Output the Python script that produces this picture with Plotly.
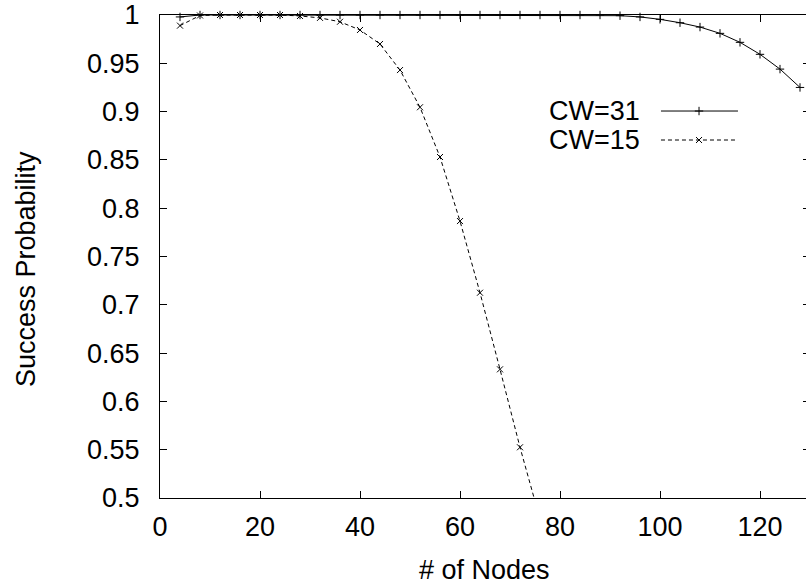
import plotly.graph_objects as go

# ---- data ----
nodes = [4, 8, 12, 16, 20, 24, 28, 32, 36, 40, 44, 48, 52, 56, 60, 64,
         68, 72, 76, 80, 84, 88, 92, 96, 100, 104, 108, 112, 116, 120, 124, 128]
cw31 = [0.998, 1.0, 1.0, 1.0, 1.0, 1.0, 1.0, 1.0, 1.0, 1.0, 1.0, 1.0, 1.0, 1.0,
        1.0, 1.0, 1.0, 1.0, 1.0, 1.0, 1.0, 1.0, 0.9993, 0.998, 0.9955, 0.992,
        0.9875, 0.981, 0.9717, 0.9593, 0.944, 0.925]
nodes15 = [4, 8, 12, 16, 20, 24, 28, 32, 36, 40, 44, 48, 52, 56, 60, 64, 68, 72, 76]
cw15 = [0.989, 0.9995, 1.0, 1.0, 1.0, 1.0, 0.999, 0.997, 0.993, 0.9845, 0.970,
        0.943, 0.9045, 0.853, 0.7867, 0.7125, 0.6332, 0.5525, 0.478]

x_ticks = [0, 20, 40, 60, 80, 100, 120]
y_ticks = [0.5, 0.55, 0.6, 0.65, 0.7, 0.75, 0.8, 0.85, 0.9, 0.95, 1.0]
y_tick_text = ["0.5", "0.55", "0.6", "0.65", "0.7", "0.75", "0.8", "0.85", "0.9", "0.95", "1"]
series_names = ["CW=31", "CW=15"]

Y_MIN, Y_MAX = 0.5, 1.0
FONT = "Liberation Sans, Arial, Helvetica, sans-serif"
FS = 27
DASH = "4px,3px"

fig = go.Figure()

# CW=31 : solid line with + markers
fig.add_trace(go.Scatter(
    x=nodes, y=cw31, mode="lines+markers", cliponaxis=False,
    line=dict(color="black", width=1),
    marker=dict(symbol="cross-thin", size=6, color="black",
                line=dict(color="black", width=1)),
    showlegend=False, name=series_names[0]))

# CW=15 : dashed line (clipped, drawn on the mirrored right y axis with the same range)
fig.add_trace(go.Scatter(
    x=nodes15, y=cw15, mode="lines", yaxis="y2",
    line=dict(color="black", width=1, dash=DASH),
    showlegend=False, name=series_names[1]))
vis = [(n, v) for n, v in zip(nodes15, cw15) if v >= Y_MIN]
fig.add_trace(go.Scatter(
    x=[p[0] for p in vis], y=[p[1] for p in vis], mode="markers", cliponaxis=False,
    marker=dict(symbol="x-thin", size=6, color="black",
                line=dict(color="black", width=1)),
    showlegend=False, name=series_names[1]))

# ---- manual gnuplot-style key (text left, sample right) ----
key_x0, key_xm, key_x1 = 0.7755, 0.8344, 0.8947
key_y = [0.8012, 0.7412]
key_dash = ["solid", DASH]
key_sym = ["cross-thin", "x-thin"]
for i in range(2):
    fig.add_trace(go.Scatter(
        x=[key_x0, key_x1], y=[key_y[i], key_y[i]], mode="lines",
        xaxis="x3", yaxis="y3",
        line=dict(color="black", width=1, dash=key_dash[i]),
        showlegend=False, hoverinfo="skip"))
    fig.add_trace(go.Scatter(
        x=[key_xm], y=[key_y[i]], mode="markers", xaxis="x3", yaxis="y3",
        marker=dict(symbol=key_sym[i], size=6, color="black",
                    line=dict(color="black", width=1)),
        showlegend=False, hoverinfo="skip"))
    fig.add_annotation(text=series_names[i], xref="paper", yref="paper",
                       x=0.7461, y=key_y[i], xanchor="right", yanchor="middle",
                       showarrow=False, font=dict(family=FONT, size=FS, color="black"))

# axis titles
fig.add_annotation(text="# of Nodes", xref="paper", yref="paper",
                   x=0.503, y=-0.149, xanchor="center", yanchor="middle",
                   showarrow=False, font=dict(family=FONT, size=FS, color="black"))
fig.add_annotation(text="Success Probability", xref="paper", yref="paper",
                   x=-0.2074, y=0.4741, xanchor="center", yanchor="middle",
                   textangle=-90, showarrow=False,
                   font=dict(family=FONT, size=FS, color="black"))

fig.update_layout(
    width=806, height=588,
    margin=dict(l=160, r=0, t=15, b=90),
    paper_bgcolor="white", plot_bgcolor="white",
    font=dict(family=FONT, size=FS, color="black"),
    xaxis=dict(range=[0, 129.2], tickvals=x_ticks, ticks="inside", ticklen=7,
               tickcolor="black", showline=True, linecolor="black", linewidth=1,
               mirror="ticks", showgrid=False, zeroline=False,
               tickfont=dict(family=FONT, size=FS), ticklabelstandoff=5),
    yaxis=dict(range=[Y_MIN, Y_MAX], tickvals=y_ticks, ticktext=y_tick_text,
               ticks="inside", ticklen=7, tickcolor="black", showline=True,
               linecolor="black", linewidth=1, mirror=False, showgrid=False,
               zeroline=False, tickfont=dict(family=FONT, size=FS),
               ticklabelstandoff=14),
    yaxis2=dict(range=[Y_MIN, Y_MAX], tickvals=y_ticks, overlaying="y", side="right",
                anchor="x", ticks="inside", ticklen=3, tickcolor="black",
                showticklabels=False, showline=False, showgrid=False, zeroline=False),
    xaxis3=dict(range=[0, 1], domain=[0, 1], overlaying="x", anchor="y3",
                visible=False, fixedrange=True),
    yaxis3=dict(range=[0, 1], overlaying="y", anchor="x3", visible=False,
                fixedrange=True),
)

fig.write_html("out.html")
